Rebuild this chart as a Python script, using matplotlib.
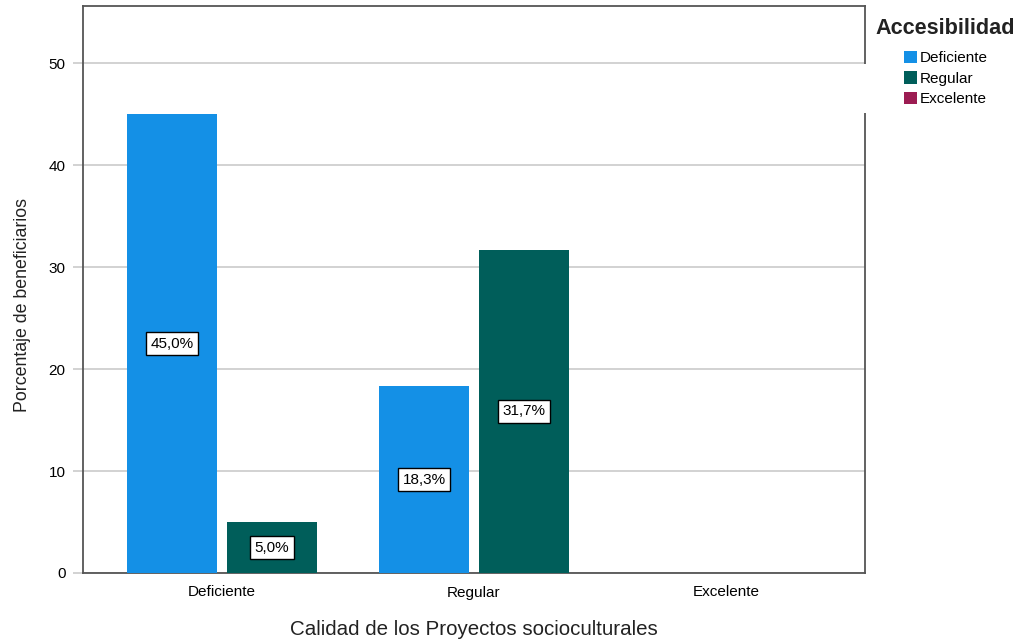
import numpy as np
import matplotlib
matplotlib.use('Agg')
import matplotlib.pyplot as plt
from matplotlib.patches import Rectangle, Patch

plt.rcParams['font.family'] = ['Liberation Sans', 'DejaVu Sans']

# data
categories = ['Deficiente', 'Regular', 'Excelente']
series_names = ['Deficiente', 'Regular', 'Excelente']
deficiente = [45.0, 18.3, 0.0]
regular = [5.0, 31.7, 0.0]
excelente = [0.0, 0.0, 0.0]
colors = ['#1490E6', '#005E5A', '#9C1C52']

fig = plt.figure(figsize=(10.21, 6.42), dpi=100)
ax = fig.add_axes([83 / 1021, 1 - 573 / 642, (865 - 83) / 1021, (573 - 6) / 642])

x = np.arange(len(categories))
width = 0.357
offset = 0.198

for vals, dx, col in [(deficiente, -offset, colors[0]), (regular, offset, colors[1])]:
    bars = ax.bar(x + dx, vals, width, color=col, edgecolor='none', zorder=3)
    for b, v in zip(bars, vals):
        if v > 0:
            ax.text(b.get_x() + b.get_width() / 2, v / 2, f'{v:.1f}%'.replace('.', ','),
                    ha='center', va='center', fontsize=11, zorder=4,
                    bbox=dict(boxstyle='square,pad=0.3', fc='white', ec='black', lw=1.0))

ax.set_xlim(-0.552, 2.552)
ax.set_ylim(0, 55.6)
ax.set_yticks([0, 10, 20, 30, 40, 50])
ax.set_xticks(x)
ax.set_xticklabels(categories)
ax.yaxis.grid(True, color='#cfcfcf', lw=1.3, zorder=0)
ax.set_axisbelow(True)

ax.tick_params(axis='x', length=0, pad=9, labelsize=11)
ax.tick_params(axis='y', length=7.5, width=1.3, color='#cfcfcf', pad=5, labelsize=11)
for s in ax.spines.values():
    s.set_color('#555555')
    s.set_linewidth(1.3)

ax.set_xlabel('Calidad de los Proyectos socioculturales', fontsize=14.8, labelpad=15, color='#222222')
ax.set_ylabel('Porcentaje de beneficiarios', fontsize=12.8, color='#222222')
ax.yaxis.set_label_coords(-0.066, 0.472)

# white strip hiding part of the right border (legend area)
fig.patches.append(Rectangle((860 / 1021, 1 - 113 / 642), 12 / 1021, 49 / 642,
                             transform=fig.transFigure, fc='white', ec='none', zorder=10))

fig.text(875 / 1021, 1 - 28 / 642, 'Accesibilidad', fontsize=15.6, fontweight='bold',
         va='center', ha='left', color='#222222')
handles = [Patch(facecolor=c, edgecolor='none') for c in colors]
fig.legend(handles, series_names, loc='upper left', bbox_to_anchor=(904 / 1021, 1 - 51 / 642),
           frameon=False, fontsize=11, handlelength=0.85, handleheight=0.85,
           handletextpad=0.2, labelspacing=0.4, borderaxespad=0, borderpad=0)

fig.savefig('out.png', dpi=100)
